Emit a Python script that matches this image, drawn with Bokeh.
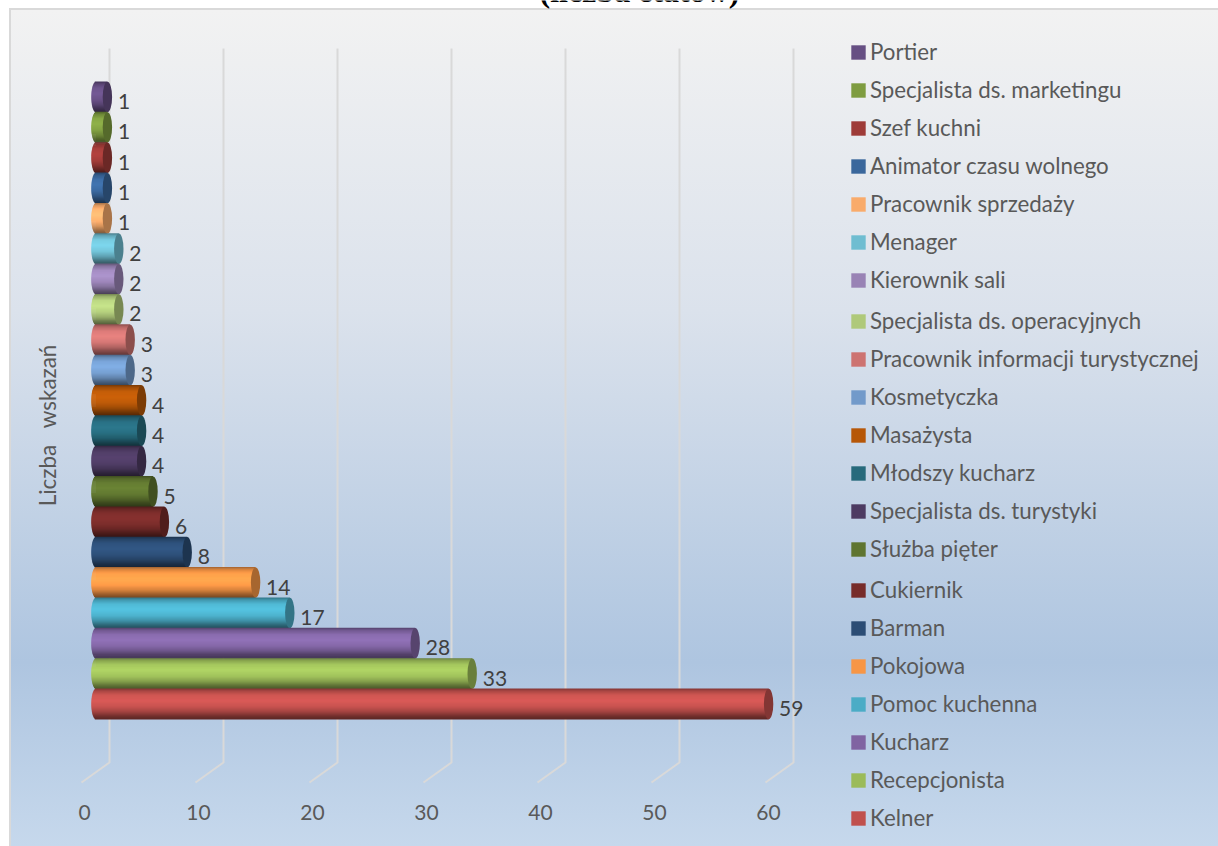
import math
import numpy as np
from bokeh.plotting import figure
from bokeh.models import Range1d, LinearAxis, FixedTicker, Legend, LegendItem, Label, ColumnDataSource
from bokeh.core.properties import value
from bokeh.embed import file_html
from bokeh.resources import INLINE

# ---- data (bottom to top of the chart) ----
categories = ["Kelner", "Recepcjonista", "Kucharz", "Pomoc kuchenna", "Pokojowa", "Barman", "Cukiernik",
              "Służba pięter", "Specjalista ds. turystyki", "Młodszy kucharz", "Masażysta", "Kosmetyczka",
              "Pracownik informacji turystycznej", "Specjalista ds. operacyjnych", "Kierownik sali", "Menager",
              "Pracownik sprzedaży", "Animator czasu wolnego", "Szef kuchni", "Specjalista ds. marketingu", "Portier"]
values = [59, 33, 28, 17, 14, 8, 6, 5, 4, 4, 4, 3, 3, 2, 2, 2, 1, 1, 1, 1, 1]
colors = ["#C0504D", "#9BBB59", "#8064A2", "#4BACC6", "#F79646", "#2C4D75", "#772C2A", "#5F7530", "#4D3B62",
          "#276A7C", "#B65708", "#729ACA", "#CD7371", "#AFC97A", "#9983B5", "#6FBDD1", "#F9AB6B", "#3A679C",
          "#9E3B38", "#7E9C40", "#664F83"]
ticks = [0, 10, 20, 30, 40, 50, 60]
title_text = "(liczba etatów)"
y_title = "Liczba\u00a0\u00a0\u00a0wskazań"

# ---- layout constants (pixels) ----
W, H = 1218, 846
L, B = 30, 836
PX_UNIT, PY_UNIT = 11.4, 30.35
X0, Y0 = 95.5, 703.5
TICK_X0 = 84

FONT = value("Lato")
def shade(hexcol, f):
    rgb = [int(hexcol[i:i + 2], 16) for i in (1, 3, 5)]
    return "#%02x%02x%02x" % tuple(int(max(0, min(255, c * f))) for c in rgb)

p = figure(width=W, height=H, output_backend="svg", toolbar_location=None,
           x_axis_type=None, y_axis_type=None,
           x_range=Range1d((L - X0) / PX_UNIT, (W - X0) / PX_UNIT),
           y_range=Range1d((Y0 - B) / PY_UNIT, Y0 / PY_UNIT),
           min_border_left=L, min_border_right=0, min_border_top=0, min_border_bottom=H - B,
           background_fill_alpha=0, border_fill_alpha=0, outline_line_color=None)
p.grid.visible = False
p.styles = {
    "background": "linear-gradient(#f2f2f2 0%, #dbe2ec 36%, #aec5e0 78%, #c6d8ec 100%) 11px 10px / 1207px 836px no-repeat,"
                  " linear-gradient(#d9d9d9, #d9d9d9) 9px 8px / 1209px 838px no-repeat",
}

# ---- gridlines: back wall plus floor stub ----
gx_back = (109 - X0) / PX_UNIT
gx_front = (81 - X0) / PX_UNIT
gy_top = (Y0 - 48) / PY_UNIT
gy_bend = (Y0 - 762) / PY_UNIT
gy_front = (Y0 - 782) / PY_UNIT
p.multi_line(xs=[[t + gx_back, t + gx_back, t + gx_front] for t in ticks],
             ys=[[gy_top, gy_bend, gy_front] for _ in ticks],
             line_color="#d9d9d9", line_width=2)

# ---- cylinders ----
t_prof = [0, .08, .22, .40, .60, .76, .90, 1]
f_prof = [.66, .88, 1.08, 1.14, 1.04, .86, .62, .48]
N = 30
half_w = 4.7 / PX_UNIT
edges = np.linspace(-.5, .5, N + 1)
items = []
for i, (v, c, name) in reversed(list(enumerate(zip(values, colors, categories)))):
    base = p.hbar(y=[i], left=[0], right=[v], height=[.9], fill_color=c, line_color=None)
    items.append(LegendItem(label=name, renderers=[base]))
    mids = (edges[:-1] + edges[1:]) / 2
    src = ColumnDataSource(dict(
        y=i - mids,
        left=[-half_w * math.sqrt(max(0, 1 - (2 * m) ** 2)) for m in mids],
        right=[v] * N,
        c=[shade(c, f) for f in np.interp(mids + .5, t_prof, f_prof)],
    ))
    p.hbar(y="y", left="left", right="right", height=1.0 / N + .02, fill_color="c", line_color=None, source=src)
    p.ellipse(x=[v], y=[i], width=[2 * half_w], height=[1.0], fill_color=shade(c, .68), line_color=None)

# ---- value labels ----
p.text(x=values, y=list(range(len(values))), text=[str(v) for v in values], x_offset=10.5, y_offset=4.5,
       text_font=FONT, text_font_size="21px", text_color="#404040", text_baseline="middle", text_align="left")

# ---- x axis labels ----
p.extra_x_ranges["ticks"] = Range1d((L - TICK_X0) / PX_UNIT, (W - TICK_X0) / PX_UNIT)
xa = LinearAxis(x_range_name="ticks", ticker=FixedTicker(ticks=ticks), axis_line_color=None,
                major_tick_line_color=None, minor_tick_line_color=None,
                major_label_text_font="Lato", major_label_text_font_size="21px",
                major_label_text_color="#595959", major_label_standoff=-38)
p.add_layout(xa, "below")

# ---- y title and chart title ----
p.add_layout(Label(x=(47 - X0) / PX_UNIT, y=(Y0 - 425) / PY_UNIT, text=y_title, angle=math.pi / 2,
                   text_font="Lato", text_font_size="22.4px", text_color="#595959",
                   text_align="center", text_baseline="middle"))
p.add_layout(Label(x=(639 - X0) / PX_UNIT, y=(Y0 + 10) / PY_UNIT, text=title_text,
                   text_font="Liberation Serif", text_font_style="bold", text_font_size="32px", text_color="#000000",
                   text_align="center", text_baseline="alphabetic"))

# ---- legend: three blocks so that the 38.4px row pitch stays on target with whole-pixel spacing ----
ROW0, PITCH, CHUNK = 50.5, 38.4, 7
for k in range(0, len(items), CHUNK):
    mid_row = ROW0 + PITCH * (k + 3)
    legend = Legend(items=items[k:k + CHUNK], location=(849 - L, round(B - (mid_row + 3 * 38 + 13.5))),
                    orientation="vertical", margin=0, padding=0,
                    background_fill_alpha=0, border_line_color=None,
                    glyph_width=18, glyph_height=18, label_height=18, label_standoff=3, spacing=11,
                    label_text_font="Lato", label_text_font_size="22.3px", label_text_color="#595959")
    p.add_layout(legend, "center")

open("out.html", "w").write(file_html(p, INLINE))
